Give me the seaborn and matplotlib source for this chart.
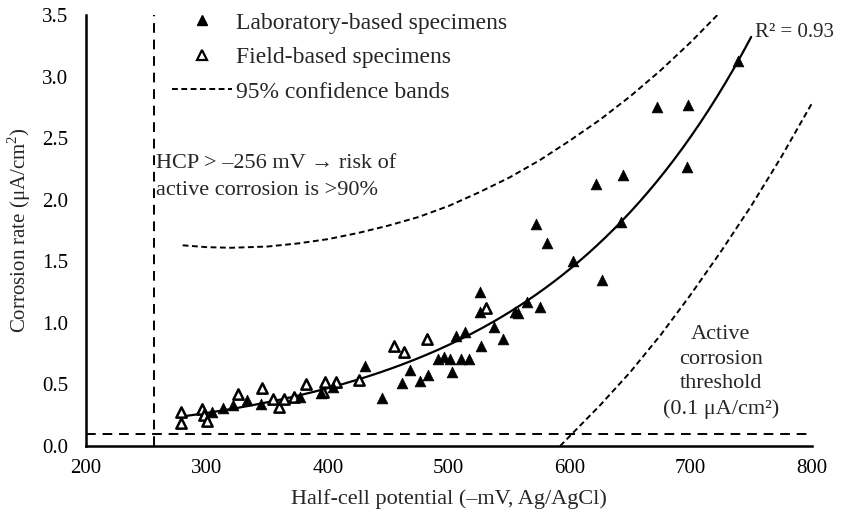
import numpy as np
import pandas as pd
import matplotlib
matplotlib.use("Agg")
import matplotlib.pyplot as plt
import seaborn as sns
from matplotlib.ticker import MultipleLocator, FormatStrFormatter
from matplotlib.lines import Line2D

# ---------------- data ----------------
lab_x = [304, 313, 322, 333, 345, 377, 394, 404, 431, 445, 461, 468, 476, 483,
         491, 496, 501, 503, 506, 510, 513, 517, 526, 526, 527, 537, 545, 555,
         557, 565, 572, 575, 581, 603, 622, 627, 642, 644, 672, 697, 698, 739]
lab_y = [0.28, 0.31, 0.33, 0.37, 0.34, 0.40, 0.43, 0.48, 0.65, 0.39, 0.51, 0.62,
         0.53, 0.58, 0.71, 0.72, 0.71, 0.60, 0.89, 0.71, 0.93, 0.71, 1.25, 1.09,
         0.81, 0.97, 0.87, 1.09, 1.08, 1.17, 1.80, 1.13, 1.65, 1.50, 2.13, 1.35,
         1.82, 2.20, 2.75, 2.27, 2.77, 3.13]

field_x = [279, 279, 296, 298, 300, 326, 346, 355, 360, 364, 372, 382, 396, 398,
           407, 426, 455, 463, 482, 531]
field_y = [0.28, 0.19, 0.30, 0.25, 0.20, 0.42, 0.47, 0.38, 0.32, 0.38, 0.40, 0.50,
           0.44, 0.52, 0.52, 0.54, 0.81, 0.76, 0.87, 1.12]

# exponential regression line  y = a * exp(b * x)
fit_a, fit_b = 0.0502, 0.00559
fit_start, fit_end = 280, 750
r2_text = "R² = 0.93"

upper_x = [280, 300, 320, 350, 375, 400, 425, 450, 475, 500, 525, 550, 575, 600,
           625, 650, 675, 700, 725, 740]
upper_y = [1.63, 1.615, 1.61, 1.62, 1.645, 1.68, 1.73, 1.79, 1.86, 1.95, 2.06,
           2.18, 2.32, 2.48, 2.65, 2.84, 3.05, 3.28, 3.53, 3.70]

lower_x = [592, 600, 625, 650, 675, 700, 725, 750, 775, 800]
lower_y = [0.0, 0.08, 0.33, 0.60, 0.90, 1.23, 1.58, 1.95, 2.35, 2.78]

hcp_threshold = 256
rate_threshold = 0.1

x_label = "Half-cell potential (–mV, Ag/AgCl)"
y_label = "Corrosion rate (μA/cm$^2$)"
legend_labels = ["Laboratory-based specimens", "Field-based specimens",
                 "95% confidence bands"]
hcp_note = "HCP > –256 mV → risk of\nactive corrosion is >90%"
threshold_note = "Active\ncorrosion\nthreshold\n(0.1 μA/cm²)"

# ---------------- figure ----------------
sns.set_theme(style="white")
plt.rcParams['font.family'] = ['Liberation Serif', 'DejaVu Serif']
plt.rcParams['mathtext.fontset'] = 'custom'
plt.rcParams['mathtext.rm'] = 'Liberation Serif'

fig = plt.figure(figsize=(8.42, 5.13), dpi=100)
ax = fig.add_axes([0.102, 0.1306, 0.862, 0.840])

lab_df = pd.DataFrame({"x": lab_x, "y": lab_y})
field_df = pd.DataFrame({"x": field_x, "y": field_y})

fx = np.linspace(fit_start, fit_end, 200)
fit_df = pd.DataFrame({"x": fx, "y": fit_a * np.exp(fit_b * fx)})
up_df = pd.DataFrame({"x": upper_x, "y": upper_y})
lo_df = pd.DataFrame({"x": lower_x, "y": lower_y})

band_dash = (3.0, 1.8)
thr_dash = (5.0, 3.5)

sns.lineplot(data=up_df, x="x", y="y", ax=ax, color="black", lw=1.4,
             linestyle=(0, band_dash))
sns.lineplot(data=lo_df, x="x", y="y", ax=ax, color="black", lw=1.4,
             linestyle=(0, band_dash))
sns.lineplot(data=fit_df, x="x", y="y", ax=ax, color="black", lw=1.6)

ax.axhline(rate_threshold, color="black", lw=1.4, linestyle=(0, thr_dash))
ax.axvline(hcp_threshold, color="black", lw=1.4, linestyle=(0, thr_dash))

sns.scatterplot(data=field_df, x="x", y="y", ax=ax, marker="^", s=55,
                color="white", edgecolor="black", linewidth=1.8, zorder=3)
sns.scatterplot(data=lab_df, x="x", y="y", ax=ax, marker="^", s=60,
                color="black", edgecolor="black", linewidth=0.5, zorder=4)

ax.set_xlim(200, 800)
ax.set_ylim(0, 3.5)
ax.xaxis.set_major_locator(MultipleLocator(100))
ax.xaxis.set_minor_locator(MultipleLocator(10))
ax.yaxis.set_major_locator(MultipleLocator(0.5))
ax.yaxis.set_minor_locator(MultipleLocator(0.1))
ax.yaxis.set_major_formatter(FormatStrFormatter("%.1f"))

for s in ["top", "right"]:
    ax.spines[s].set_visible(False)
for s in ["left", "bottom"]:
    ax.spines[s].set_linewidth(1.8)
    ax.spines[s].set_color("black")

ax.tick_params(which="major", direction="inout", length=9, width=1.6,
               labelsize=15, colors="black")
ax.tick_params(axis="y", which="major", pad=8)
ax.tick_params(axis="x", which="major", pad=5)
ax.tick_params(which="minor", direction="in", length=4, width=1.2,
               colors="black")

ax.set_xlabel(x_label, fontsize=16, labelpad=8)
ax.set_ylabel(y_label, fontsize=15, labelpad=7)

handles = [
    Line2D([], [], marker="^", color="black", linestyle="none", markersize=7),
    Line2D([], [], marker="^", markerfacecolor="white", markeredgecolor="black",
           markeredgewidth=1.6, linestyle="none", markersize=6.5),
    Line2D([], [], color="black", lw=1.4, linestyle=(0, band_dash)),
]
ax.legend(handles, legend_labels, loc="upper left", bbox_to_anchor=(0.118, 1.007),
          frameon=False, fontsize=17, handlelength=2.55, handletextpad=0.2,
          labelspacing=0.55, borderpad=0, borderaxespad=0)

ax.text(753, 3.36, r2_text, fontsize=15, ha="left", va="center")
ax.text(258, 2.37, hcp_note, fontsize=16, ha="left", va="top", linespacing=1.57)
ax.text(725, 0.98, threshold_note, fontsize=16, ha="center", va="top",
        linespacing=1.39)

fig.savefig("out.png", dpi=100)
